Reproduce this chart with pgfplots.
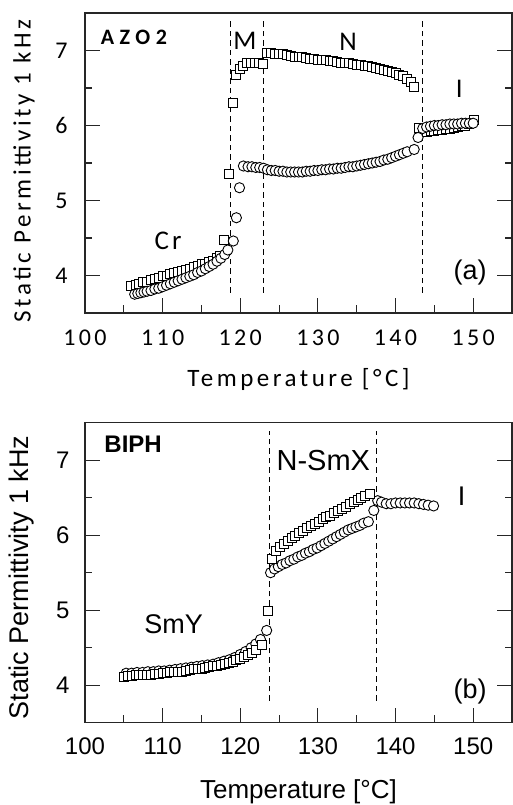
\documentclass[border=0pt]{standalone}
\usepackage{fontspec}
\setmainfont{Liberation Sans}
\newfontfamily\carl[LetterSpace=14]{Carlito}
\newfontfamily\carlw[LetterSpace=25]{Carlito}
\usepackage{pgfplots}
\pgfplotsset{compat=1.18}
\pgfplotsset{
  panel/.style={
    scale only axis, width=427pt, height=300pt,
    xmin=100, xmax=155, ymin=3.5, ymax=7.5,
    xtick={100,110,...,150}, minor xtick={105,115,...,145},
    ytick={4,5,6,7}, minor ytick={4.5,5.5,6.5},
    xtick pos=left, ytick pos=both,
    tick align=inside,
    major tick length=15pt, minor tick length=7.5pt,
    axis line style={line width=1.3pt, black!85},
    major tick style={line width=1.1pt, black!85},
    minor tick style={line width=1.1pt, black!85},
    /pgf/number format/assume math mode=true,
    clip=false,
  },
  sq/.style={only marks, mark=square*, mark size=4.5pt, mark options={fill=white, draw=black, line width=0.9pt}},
  ci/.style={only marks, mark=*, mark size=5.1pt, mark options={fill=white, draw=black, line width=0.9pt}},
  vl/.style={black, line width=1.1pt, dash pattern=on 5.5pt off 4pt},
}
\begin{document}
\begin{tikzpicture}
% ---------------- panel (a) ----------------
\begin{axis}[panel, at={(85pt,492pt)}, anchor=south west,
  tick label style={font=\fontsize{24}{26}\selectfont\carl},
  xticklabel style={yshift=-13pt}, yticklabel style={xshift=-14pt},
  xlabel={Temperature [°C]}, ylabel={Static Permittivity 1 kHz},
  xlabel style={font=\fontsize{25}{27}\selectfont\carl, at={(axis description cs:0.5,-0.223)}, anchor=center},
  ylabel style={font=\fontsize{25}{27}\selectfont\carl, at={(axis description cs:-0.143,0.473)}, anchor=center},
]
\addplot[vl] coordinates {(118.7,3.77) (118.7,7.39)};
\addplot[vl] coordinates {(123.0,3.77) (123.0,7.39)};
\addplot[vl] coordinates {(143.5,3.77) (143.5,7.39)};
\addplot[sq] table {
105.9 3.86
106.5 3.88
107.0 3.89
107.5 3.91
108.0 3.92
108.5 3.94
109.0 3.95
109.5 3.97
110.0 3.99
110.5 4.00
111.0 4.02
111.5 4.03
112.0 4.05
112.5 4.06
113.0 4.08
113.5 4.09
114.0 4.11
114.5 4.13
115.0 4.15
115.5 4.16
116.0 4.18
116.5 4.20
117.0 4.23
117.4 4.26
117.9 4.47
118.5 5.35
119.1 6.30
119.5 6.67
119.9 6.76
120.4 6.80
120.9 6.83
121.4 6.83
121.9 6.83
122.4 6.83
122.9 6.82
123.4 6.97
124.0 6.97
124.5 6.96
125.0 6.95
125.5 6.95
126.0 6.94
126.5 6.93
127.0 6.92
127.5 6.92
128.0 6.91
128.5 6.90
129.0 6.89
129.5 6.89
130.0 6.88
130.5 6.87
131.0 6.87
131.5 6.86
132.0 6.86
132.5 6.85
133.0 6.84
133.5 6.84
134.0 6.83
134.5 6.82
135.0 6.81
135.5 6.81
136.0 6.80
136.5 6.79
137.0 6.78
137.5 6.77
138.0 6.76
138.5 6.74
139.0 6.73
139.5 6.72
140.0 6.70
140.5 6.68
141.0 6.66
141.5 6.62
142.0 6.58
142.4 6.51
143.0 5.97
143.5 5.93
144.0 5.92
144.5 5.93
145.0 5.93
145.5 5.94
146.0 5.94
146.5 5.95
147.0 5.96
147.5 5.97
148.0 5.98
148.5 5.99
149.0 6.00
149.5 6.02
150.1 6.08
};
\addplot[ci] table {
106.4 3.75
106.8 3.76
107.2 3.77
107.6 3.78
108.0 3.79
108.5 3.80
109.0 3.82
109.5 3.83
110.0 3.85
110.5 3.87
111.0 3.89
111.5 3.91
112.0 3.93
112.5 3.95
113.0 3.97
113.5 3.99
114.0 4.01
114.5 4.04
115.0 4.06
115.5 4.09
116.0 4.12
116.5 4.15
117.0 4.19
117.5 4.23
118.0 4.28
118.4 4.34
119.1 4.46
119.5 4.77
119.9 5.17
120.4 5.46
121.0 5.45
121.5 5.45
122.0 5.44
122.5 5.44
123.0 5.43
123.5 5.41
124.0 5.40
124.5 5.40
125.0 5.39
125.5 5.39
126.0 5.38
126.5 5.38
127.0 5.38
127.5 5.38
128.0 5.38
128.5 5.39
129.0 5.39
129.5 5.40
130.0 5.40
130.5 5.41
131.0 5.41
131.5 5.42
132.0 5.42
132.5 5.43
133.0 5.43
133.5 5.44
134.0 5.45
134.5 5.45
135.0 5.46
135.5 5.47
136.0 5.48
136.5 5.49
137.0 5.50
137.5 5.51
138.0 5.52
138.5 5.54
139.0 5.55
139.5 5.57
140.0 5.59
140.5 5.61
141.0 5.63
141.5 5.65
142.4 5.68
142.9 5.84
143.5 5.96
144.0 5.98
144.5 5.99
145.0 6.00
145.5 6.00
146.0 6.01
146.5 6.01
147.0 6.02
147.5 6.02
148.0 6.02
148.5 6.03
149.0 6.03
149.5 6.03
150.0 6.03
};
\node[font=\fontsize{22}{24}\selectfont\carlw\bfseries] at (axis cs:106.3,7.18) {AZO2};
\node[font=\fontsize{27}{29}\selectfont\carl] at (axis cs:120.6,7.13) {M};
\node[font=\fontsize{27}{29}\selectfont\carl] at (axis cs:133.9,7.12) {N};
\node[font=\fontsize{27}{29}\selectfont\carl] at (axis cs:148.2,6.49) {I};
\node[font=\fontsize{27}{29}\selectfont\carl] at (axis cs:110.7,4.46) {C\hspace{3pt}r};
\node[font=\fontsize{27}{29}\selectfont] at (axis cs:149.6,4.04) {(a)};
\end{axis}
% ---------------- panel (b) ----------------
\begin{axis}[panel, at={(85pt,82.3pt)}, anchor=south west,
  tick label style={font=\fontsize{24}{26}\selectfont},
  xticklabel style={yshift=-12pt}, yticklabel style={xshift=-12pt},
  xlabel={Temperature [°C]}, ylabel={Static Permittivity 1 kHz},
  xlabel style={font=\fontsize{26}{28}\selectfont, at={(axis description cs:0.5,-0.23)}, anchor=center},
  ylabel style={font=\fontsize{27}{29}\selectfont, at={(axis description cs:-0.148,0.484)}, anchor=center},
]
\addplot[vl] coordinates {(123.75,3.79) (123.75,7.39)};
\addplot[vl] coordinates {(137.5,3.79) (137.5,7.39)};
\addplot[ci] table {
105.3 4.16
106.0 4.16
106.7 4.17
107.4 4.17
108.1 4.18
108.8 4.18
109.5 4.19
110.2 4.19
110.9 4.20
111.6 4.21
112.3 4.22
113.0 4.23
113.7 4.24
114.4 4.25
115.1 4.26
115.8 4.27
116.5 4.28
117.2 4.30
117.9 4.32
118.6 4.34
119.3 4.37
120.0 4.41
120.7 4.45
121.4 4.50
122.0 4.55
122.6 4.61
123.4 4.73
123.9 5.50
124.4 5.55
124.9 5.58
125.4 5.61
125.9 5.63
126.4 5.66
126.9 5.68
127.4 5.71
127.9 5.73
128.4 5.76
128.9 5.78
129.4 5.81
129.9 5.83
130.4 5.86
130.9 5.89
131.4 5.92
131.9 5.95
132.4 5.98
132.9 6.01
133.4 6.04
133.9 6.07
134.4 6.09
134.9 6.11
135.4 6.13
135.9 6.16
136.5 6.18
137.2 6.33
137.7 6.46
138.2 6.44
138.8 6.42
139.4 6.42
140.0 6.43
140.6 6.43
141.2 6.43
141.8 6.43
142.4 6.43
143.0 6.42
143.6 6.41
144.2 6.40
144.9 6.39
};
\addplot[sq] table {
105.0 4.11
105.5 4.12
106.0 4.12
106.5 4.13
107.0 4.13
107.5 4.13
108.0 4.14
108.5 4.14
109.0 4.15
109.5 4.15
110.0 4.16
110.5 4.16
111.0 4.17
111.5 4.17
112.0 4.18
112.5 4.18
113.0 4.19
113.5 4.20
114.0 4.21
114.5 4.21
115.0 4.22
115.5 4.23
116.0 4.24
116.5 4.25
117.0 4.26
117.5 4.27
118.0 4.28
118.5 4.30
119.0 4.31
119.5 4.33
120.0 4.35
120.5 4.37
121.0 4.40
121.5 4.43
122.0 4.47
122.8 4.54
123.6 4.99
124.1 5.68
124.6 5.79
125.1 5.84
125.6 5.88
126.1 5.92
126.6 5.96
127.1 5.99
127.6 6.03
128.1 6.06
128.6 6.09
129.1 6.12
129.6 6.15
130.1 6.18
130.6 6.21
131.1 6.24
131.6 6.26
132.1 6.29
132.6 6.32
133.1 6.35
133.6 6.38
134.1 6.41
134.6 6.44
135.1 6.47
135.6 6.50
136.1 6.52
136.7 6.55
};
\node[font=\fontsize{24}{26}\selectfont\bfseries] at (axis cs:106.2,7.21) {BIPH};
\node[font=\fontsize{29}{31}\selectfont] at (axis cs:130.7,6.99) {N-SmX};
\node[font=\fontsize{27}{29}\selectfont] at (axis cs:148.5,6.52) {I};
\node[font=\fontsize{27}{29}\selectfont] at (axis cs:111.4,4.81) {SmY};
\node[font=\fontsize{27}{29}\selectfont] at (axis cs:149.6,3.91) {(b)};
\end{axis}
\pgfresetboundingbox
\useasboundingbox (0,0) rectangle (513pt,805pt);
\end{tikzpicture}
\end{document}
